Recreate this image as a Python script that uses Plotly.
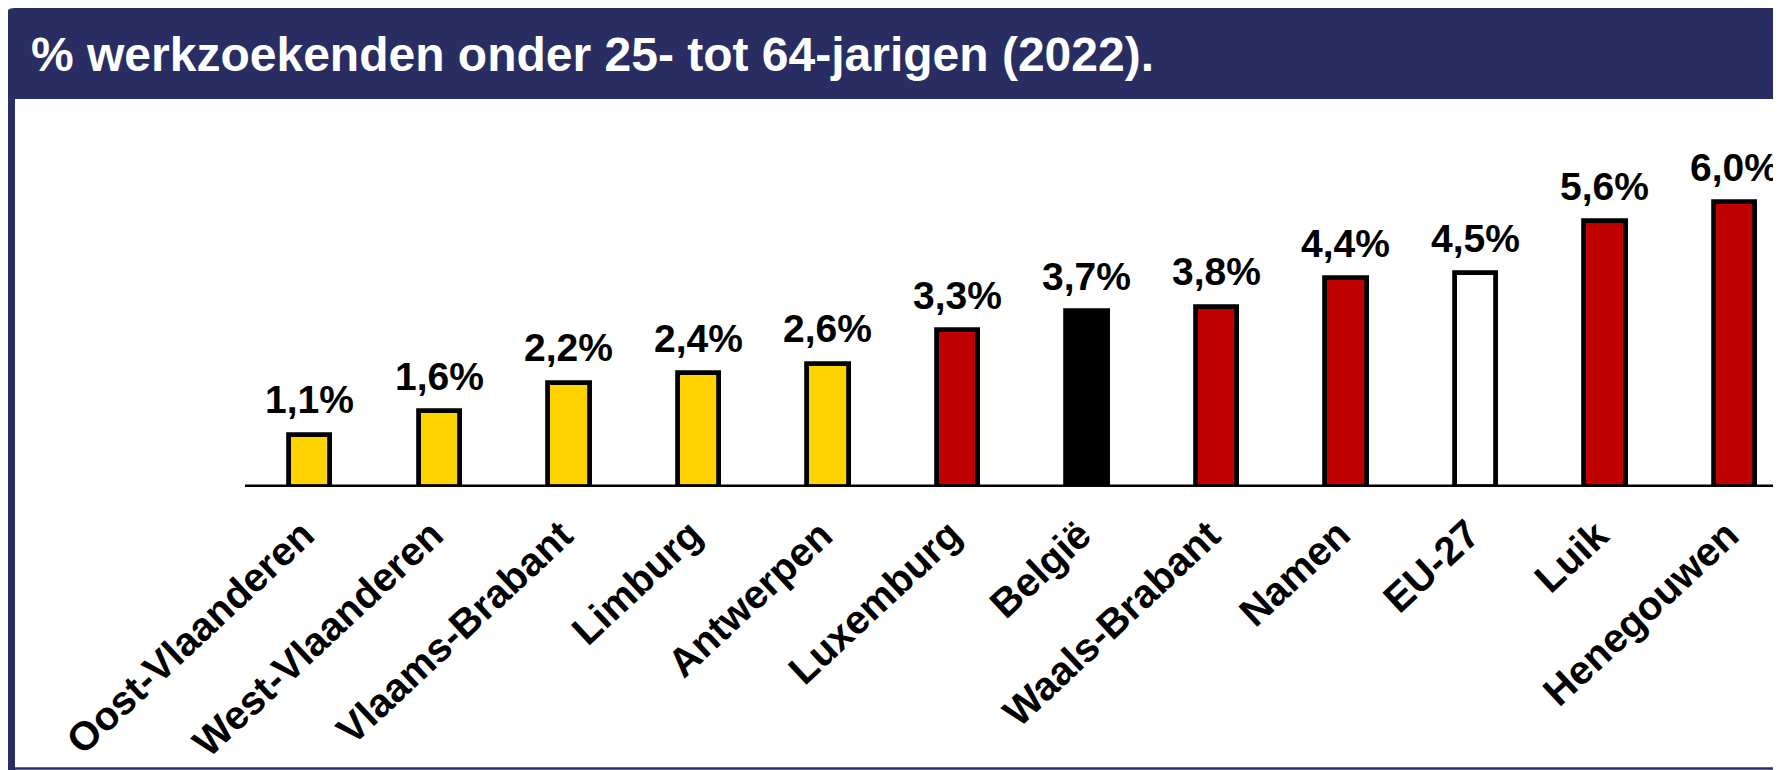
import plotly.graph_objects as go

# ---- data ----
categories = ["Oost-Vlaanderen", "West-Vlaanderen", "Vlaams-Brabant", "Limburg",
              "Antwerpen", "Luxemburg", "België", "Waals-Brabant", "Namen",
              "EU-27", "Luik", "Henegouwen"]
values = [1.1, 1.6, 2.2, 2.4, 2.6, 3.3, 3.7, 3.8, 4.4, 4.5, 5.6, 6.0]
value_labels = ["1,1%", "1,6%", "2,2%", "2,4%", "2,6%", "3,3%", "3,7%", "3,8%",
                "4,4%", "4,5%", "5,6%", "6,0%"]
title_text = "% werkzoekenden onder 25- tot 64-jarigen (2022)."

YELLOW = "#FFD200"
RED = "#C00000"
BLACK = "#000000"
WHITE = "#FFFFFF"
NAVY = "#292D62"
bar_colors = [YELLOW] * 5 + [RED, BLACK, RED, RED, WHITE, RED, RED]

# ---- layout geometry (page pixels; the page body has an 8px margin) ----
OFF = 8
W, H = 1781 - OFF, 770 - OFF
PL, PR, PT, PB = 245 - OFF, 1781 - OFF, 131 - OFF, 487 - OFF   # plot area edges (figure px)
FONT = "Liberation Sans, Arial, sans-serif"


def px(x_page):
    return (x_page - OFF - PL) / (PR - PL)


def py(y_page):
    return (PB - (y_page - OFF)) / (PB - PT)


fig = go.Figure()
fig.add_trace(go.Bar(
    x=list(range(len(categories))), y=values,
    width=0.32,
    marker=dict(color=bar_colors, line=dict(color="black", width=4.8)),
    hoverinfo="skip", showlegend=False,
))

annotations = []
# value labels
for i, (v, t) in enumerate(zip(values, value_labels)):
    annotations.append(dict(
        x=i, y=v, xref="x", yref="y", text="<b>%s</b>" % t, showarrow=False,
        xanchor="center", yanchor="middle", yshift=35,
        font=dict(family=FONT, size=39, color="black"),
    ))
# category labels (rotated)
for i, c in enumerate(categories):
    annotations.append(dict(
        x=i, y=0, xref="x", yref="y", text="<b>%s</b>" % c, showarrow=False,
        textangle=-43, xanchor="right", yanchor="top", xshift=15, yshift=-22,
        font=dict(family=FONT, size=40, color="black"),
    ))
# title
annotations.append(dict(
    x=px(29), y=py(54), xref="paper", yref="paper", text="<b>%s</b>" % title_text,
    showarrow=False, xanchor="left", yanchor="middle",
    font=dict(family=FONT, size=48, color="white"),
))

r = 8
hx0, hx1, hy0, hy1 = 6, 1800, 8, 99
header_path = (
    f"M {px(hx0)},{py(hy1)} L {px(hx0)},{py(hy0 + r)} "
    f"Q {px(hx0)},{py(hy0)} {px(hx0 + r)},{py(hy0)} "
    f"L {px(hx1)},{py(hy0)} L {px(hx1)},{py(hy1)} Z"
)
shapes = [
    dict(type="path", path=header_path, xref="paper", yref="paper",
         fillcolor=NAVY, line=dict(width=0), layer="below"),
    dict(type="rect", xref="paper", yref="paper", x0=px(6), x1=px(15),
         y0=py(99), y1=py(772), fillcolor=NAVY, line=dict(width=0), layer="below"),
    dict(type="line", xref="paper", yref="paper", x0=px(6), x1=px(1800),
         y0=py(768.5), y1=py(768.5), line=dict(color=NAVY, width=2.5)),
    dict(type="line", xref="paper", yref="y", x0=0, x1=1, y0=0, y1=0,
         line=dict(color="black", width=4.8)),
]

fig.update_layout(
    width=W, height=H,
    margin=dict(l=PL, r=W - PR, t=PT, b=H - PB, pad=0),
    paper_bgcolor="white", plot_bgcolor="white",
    xaxis=dict(range=[-0.5, 11.36], visible=False, fixedrange=True),
    yaxis=dict(range=[0, 7.5], visible=False, fixedrange=True),
    bargap=0, annotations=annotations, shapes=shapes,
    showlegend=False,
)

fig.write_html("out.html", config={"displayModeBar": False})
